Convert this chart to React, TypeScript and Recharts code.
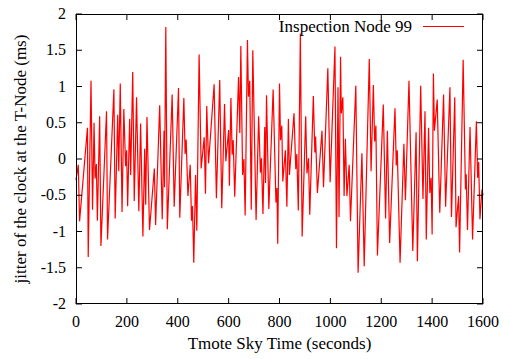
import React from 'react';
import { LineChart, Line, XAxis, YAxis } from 'recharts';

// time (seconds) of each sample
const times = [
  0, 9, 14, 45, 48, 59, 65, 71, 75, 80, 84, 93, 98, 120, 124, 149, 154, 164, 168, 174,
  181, 188, 195, 199, 203, 211, 215, 223, 229, 238, 247, 254, 263, 270, 274, 279, 289, 308, 313, 329,
  339, 346, 348, 353, 359, 378, 386, 403, 408, 424, 429, 433, 440, 449, 454, 458, 463, 470, 475, 484,
  492, 504, 509, 514, 521, 543, 552, 565, 573, 584, 589, 600, 603, 609, 614, 618, 624, 639, 644, 648,
  655, 660, 665, 674, 678, 683, 689, 695, 708, 718, 725, 729, 735, 742, 745, 749, 758, 775, 786, 790,
  793, 800, 804, 809, 813, 823, 829, 835, 839, 857, 864, 868, 874, 882, 889, 903, 908, 914, 919, 933,
  939, 942, 949, 967, 973, 990, 999, 1018, 1024, 1030, 1034, 1040, 1043, 1049, 1054, 1059, 1065, 1074, 1079, 1100,
  1109, 1124, 1133, 1153, 1160, 1169, 1174, 1179, 1185, 1208, 1217, 1224, 1233, 1254, 1259, 1263, 1274, 1289, 1295, 1309,
  1324, 1337, 1342, 1355, 1364, 1372, 1377, 1386, 1391, 1396, 1400, 1405, 1409, 1420, 1430, 1445, 1453, 1470, 1476, 1489,
  1494, 1504, 1508, 1522, 1531, 1534, 1539, 1549, 1559, 1574, 1579, 1583, 1588, 1596, 1600,
];

// jitter of the clock (ms)
const jitter = [
  -0.29, -0.08, -0.86, 0.43, -1.35, 1.08, -0.7, 0.5, -0.27, -0.07, -0.85, 0.59, -1.2, 0.66, -1.11, 0.96, -0.82, 0.61, -0.17, 1.04,
  -0.73, 0.69, -0.1, 0.12, -0.65, 0.55, -0.22, 1.2, -0.58, 0.85, -0.72, 0.49, -1.07, 0.14, -0.63, 0.58, -0.98, -0.13, -0.91, 0.74,
  -0.83, 0.39, -0.39, 1.82, -0.97, 0.89, -0.66, 0.98, -0.81, 0.84, 0.07, 0.27, -0.51, -0.08, -0.85, -0.65, -1.43, -0.22, -0.99, 1.44,
  -0.13, 0.3, -0.48, 0.73, -0.06, 1.03, -0.54, 1.09, -0.68, 0.76, -0.03, 0.4, -0.37, 0.84, 0.06, 0.26, -0.52, 1.13, 0.36, 1.56,
  -0.22, 0.0, -0.78, 1.64, 0.86, 1.08, -0.7, 1.5, -0.84, 0.59, -0.19, 0.01, -0.76, 0.44, -0.33, 0.88, -0.69, 0.96, -0.6, -0.4,
  -1.17, 1.04, 0.26, 0.46, -0.31, 0.12, -0.66, 0.55, -0.22, 0.63, -0.14, 0.07, -0.71, 1.73, -1.07, 0.59, -0.2, 0.01, -0.77, 0.87,
  0.09, 0.31, -0.47, 0.39, -0.39, 1.25, -0.32, 1.55, -1.23, 0.99, -0.8, 1.41, 0.63, 0.85, -0.51, 0.28, -0.51, -0.08, -0.86, 1.01,
  -1.57, 0.08, -1.48, 1.38, -0.17, 1.02, 0.24, 0.46, -1.33, 0.75, -0.82, 0.39, -1.16, 0.7, -0.09, 0.12, -1.43, 0.21, -0.57, 1.08,
  -1.27, 0.37, -1.41, 1.01, -0.55, 0.66, -1.11, 0.43, -0.47, -0.26, -1.04, 1.18, 0.39, 0.82, -0.74, 0.89, -0.66, 0.99, -0.8, 0.85,
  -0.94, -0.51, -1.29, 1.37, -0.42, -0.21, -0.98, 0.44, -1.11, 0.52, -0.26, -0.04, -0.83, -0.42, -0.5,
];

const xTicks = [0, 200, 400, 600, 800, 1000, 1200, 1400, 1600];
const yTicks = [-2, -1.5, -1, -0.5, 0, 0.5, 1, 1.5, 2];

const data = times.map((t, i) => ({ t, v: jitter[i] }));

const W = 510;
const H = 359;
const LEFT = 76;
const RIGHT = 483;
const TOP = 14;
const BOTTOM = 304;
const TICK = 6;
const FONT = 'Liberation Serif, DejaVu Serif, serif';

const XTick = (props: any) => {
  const { x, payload } = props;
  return (
    <g>
      <line x1={x} x2={x} y1={BOTTOM} y2={BOTTOM - TICK} stroke="#000" />
      <line x1={x} x2={x} y1={TOP} y2={TOP + TICK} stroke="#000" />
      <text x={x} y={BOTTOM + 23} textAnchor="middle" style={{ fontSize: 16, fontFamily: FONT }} fill="#000">
        {payload.value}
      </text>
    </g>
  );
};

const YTick = (props: any) => {
  const { y, payload } = props;
  return (
    <g>
      <line x1={LEFT} x2={LEFT + TICK} y1={y} y2={y} stroke="#000" />
      <line x1={RIGHT} x2={RIGHT - TICK} y1={y} y2={y} stroke="#000" />
      <text x={LEFT - 10} y={y + 5} textAnchor="end" style={{ fontSize: 16, fontFamily: FONT }} fill="#000">
        {payload.value}
      </text>
    </g>
  );
};

export default function App() {
  return (
    <div style={{ position: 'absolute', left: 0, top: 0, width: W, height: H, background: '#fff', fontFamily: FONT }}>
      <LineChart width={W} height={H} data={data} margin={{ top: TOP, right: W - RIGHT, bottom: 0, left: 0 }}>
        <XAxis
          dataKey="t"
          type="number"
          domain={[0, 1600]}
          ticks={xTicks}
          interval={0}
          height={H - BOTTOM}
          axisLine={false}
          tickLine={false}
          tick={<XTick />}
          label={{ value: 'Tmote Sky Time (seconds)', position: 'insideBottom', offset: 10, fill: '#000', style: { fontSize: 17, fontFamily: FONT } }}
        />
        <YAxis
          type="number"
          domain={[-2, 2]}
          ticks={yTicks}
          interval={0}
          width={LEFT}
          axisLine={false}
          tickLine={false}
          tick={<YTick />}
          label={{ value: 'jitter of the clock at the T-Node (ms)', angle: -90, position: 'insideLeft', offset: 20, fill: '#000', style: { textAnchor: 'middle', fontSize: 17, fontFamily: FONT } }}
        />
        <Line type="linear" dataKey="v" stroke="#ff0000" strokeWidth={1.2} dot={false} isAnimationActive={false} />
      </LineChart>
      {/* plot frame */}
      <div
        style={{
          position: 'absolute',
          left: LEFT - 0.5,
          top: TOP - 0.5,
          width: RIGHT - LEFT,
          height: BOTTOM - TOP,
          border: '1.2px solid #000',
          boxSizing: 'border-box',
          pointerEvents: 'none',
        }}
      />
      {/* key */}
      <div style={{ position: 'absolute', right: W - 412, top: 17, fontSize: 17, color: '#000', whiteSpace: 'nowrap', lineHeight: '20px' }}>
        Inspection Node 99
      </div>
      <div style={{ position: 'absolute', left: 423, width: 41, top: 26, borderTop: '1px solid #ff0000' }} />
    </div>
  );
}
